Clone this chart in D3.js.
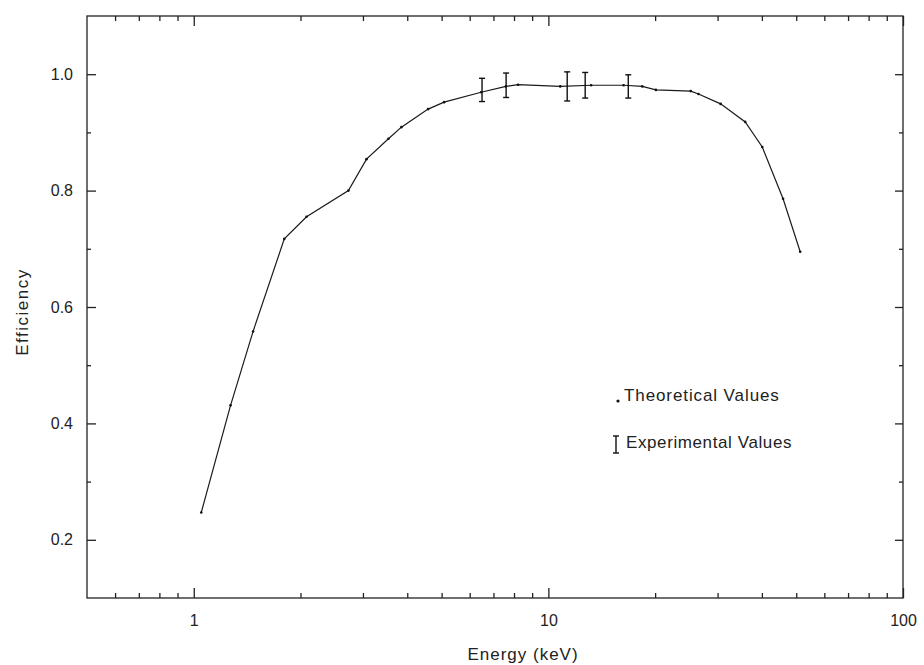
<!DOCTYPE html>
<html>
<head>
<meta charset="utf-8">
<script src="https://cdn.jsdelivr.net/npm/d3@7"></script>
<style>
  body { margin: 0; background: #fff; }
  svg text { font-family: "Liberation Sans", Arial, sans-serif; fill: #222; }
  .axis path, .axis line { stroke: #222; stroke-width: 1.3; }
</style>
</head>
<body>
<div id="container1"></div>
<script>
// theoretical curve (energy keV, efficiency)
const energy = [1.05, 1.27, 1.47, 1.80, 2.08, 2.73, 3.07, 3.54, 3.85, 4.58, 5.08, 6.46, 7.59, 8.21, 10.8, 13.2, 16.3, 18.4, 20.1, 25.2, 26.5, 30.6, 35.9, 40.1, 45.9, 51.3];
const efficiency = [0.247, 0.431, 0.558, 0.717, 0.755, 0.800, 0.854, 0.889, 0.909, 0.940, 0.952, 0.969, 0.979, 0.982, 0.979, 0.981, 0.981, 0.979, 0.973, 0.971, 0.966, 0.949, 0.918, 0.875, 0.786, 0.695];

// experimental points with error bars
const expEnergy = [6.5, 7.6, 11.3, 12.7, 16.8];
const expValue = [0.973, 0.981, 0.979, 0.981, 0.979];
const expErr = [0.020, 0.021, 0.025, 0.022, 0.020];

const xMajor = [1, 10, 100];
const xMinor = [0.6, 0.7, 0.8, 0.9, 2, 3, 4, 5, 6, 7, 8, 9, 20, 30, 40, 50, 60, 70, 80, 90];
const yMajor = [0.2, 0.4, 0.6, 0.8, 1.0];
const yMinor = [0.3, 0.5, 0.7, 0.9];

const w = 924;
const h = 665;
const padL = 87, padR = 903, padT = 16, padB = 598;

const svg = d3.select("#container1")
    .append("svg")
    .attr("width", w)
    .attr("height", h);

const xScale = d3.scaleLog()
    .domain([0.5, 100])
    .range([padL, padR]);

const yScale = d3.scaleLinear()
    .domain([0.1, 1.1])
    .range([padB, padT]);

// frame
svg.append("rect")
    .attr("x", padL)
    .attr("y", padT)
    .attr("width", padR - padL)
    .attr("height", padB - padT)
    .attr("fill", "none")
    .attr("stroke", "#222")
    .attr("stroke-width", 1.3);

// axes, ticks pointing inward
function addAxis(axis, tx, ty, size, vals, labels) {
    const g = svg.append("g")
        .attr("class", "axis")
        .attr("transform", `translate(${tx},${ty})`)
        .call(axis.tickValues(vals).tickSizeInner(-size).tickSizeOuter(0)
            .tickFormat(labels ? labels : ""));
    g.select(".domain").remove();
    return g;
}

addAxis(d3.axisBottom(xScale).tickPadding(17), 0, padB, 10, xMajor, d3.format("d"))
    .selectAll("text").style("font-size", "16px");
addAxis(d3.axisBottom(xScale), 0, padB, 5, xMinor);
addAxis(d3.axisTop(xScale), 0, padT, 10, xMajor);
addAxis(d3.axisTop(xScale), 0, padT, 5, xMinor);

addAxis(d3.axisLeft(yScale).tickPadding(14), padL, 0, 9, yMajor, d3.format(".1f"))
    .selectAll("text").style("font-size", "16px");
addAxis(d3.axisLeft(yScale), padL, 0, 4, yMinor);
addAxis(d3.axisRight(yScale), padR, 0, 8, yMajor);
addAxis(d3.axisRight(yScale), padR, 0, 4, yMinor);

// theoretical curve
const pts = energy.map((e, i) => [e, efficiency[i]]);
const line = d3.line()
    .x(d => xScale(d[0]))
    .y(d => yScale(d[1]));

svg.append("path")
    .datum(pts)
    .attr("d", line)
    .attr("fill", "none")
    .attr("stroke", "#1a1a1a")
    .attr("stroke-width", 1.2);

svg.selectAll(".theo")
    .data(pts)
    .enter()
    .append("circle")
    .attr("class", "theo")
    .attr("cx", d => xScale(d[0]))
    .attr("cy", d => yScale(d[1]))
    .attr("r", 1.3)
    .attr("fill", "#111");

// experimental error bars
const exp = expEnergy.map((e, i) => ({ e: e, v: expValue[i], err: expErr[i] }));
const eb = svg.selectAll(".eb")
    .data(exp)
    .enter()
    .append("g")
    .attr("class", "eb")
    .attr("stroke", "#111")
    .attr("stroke-width", 1.4);

eb.append("line")
    .attr("x1", d => xScale(d.e)).attr("x2", d => xScale(d.e))
    .attr("y1", d => yScale(d.v + d.err)).attr("y2", d => yScale(d.v - d.err));
eb.append("line")
    .attr("x1", d => xScale(d.e) - 3).attr("x2", d => xScale(d.e) + 3)
    .attr("y1", d => yScale(d.v + d.err)).attr("y2", d => yScale(d.v + d.err));
eb.append("line")
    .attr("x1", d => xScale(d.e) - 3).attr("x2", d => xScale(d.e) + 3)
    .attr("y1", d => yScale(d.v - d.err)).attr("y2", d => yScale(d.v - d.err));

// legend
svg.append("circle")
    .attr("cx", 618).attr("cy", 401).attr("r", 1.6).attr("fill", "#111");
svg.append("text")
    .attr("x", 624).attr("y", 401)
    .style("font-size", "17px")
    .style("letter-spacing", "0.9px")
    .text("Theoretical Values");

const lg = svg.append("g").attr("stroke", "#111").attr("stroke-width", 1.4);
lg.append("line").attr("x1", 616).attr("x2", 616).attr("y1", 436).attr("y2", 453);
lg.append("line").attr("x1", 613).attr("x2", 619).attr("y1", 436).attr("y2", 436);
lg.append("line").attr("x1", 613).attr("x2", 619).attr("y1", 453).attr("y2", 453);
svg.append("text")
    .attr("x", 626).attr("y", 448)
    .style("font-size", "17px")
    .style("letter-spacing", "0.6px")
    .text("Experimental Values");

// axis titles
svg.append("text")
    .attr("x", (padL + padR) / 2 + 28)
    .attr("y", 660)
    .attr("text-anchor", "middle")
    .style("font-size", "17px")
    .style("letter-spacing", "1px")
    .text("Energy (keV)");

svg.append("text")
    .attr("transform", "translate(28,312) rotate(-90)")
    .attr("text-anchor", "middle")
    .style("font-size", "17px")
    .style("letter-spacing", "1.5px")
    .text("Efficiency");
</script>
</body>
</html>
